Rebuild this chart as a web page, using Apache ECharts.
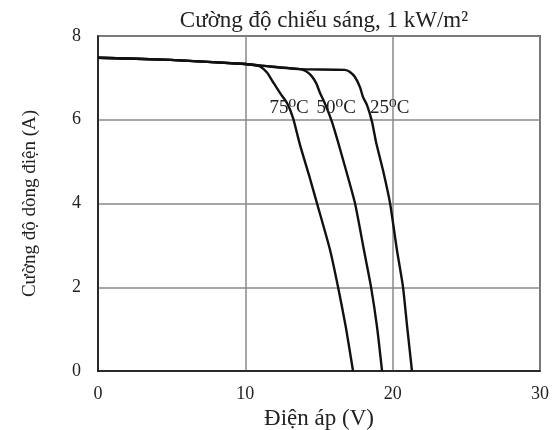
<!DOCTYPE html>
<html lang="vi">
<head>
    <meta charset="UTF-8">
    <title>I-V</title>
    <script src="https://cdn.jsdelivr.net/npm/echarts@6/dist/echarts.min.js"></script>
    <style>
        html, body { margin: 0; padding: 0; background: #fff; }
    </style>
</head>
<body>
<div id="main" style="width: 555px;height:430px;"></div>
<script>
    // du lieu doc tu hinh: [dien ap (V), cuong do (A)]
    let curve75 = [[0, 7.48], [4.9, 7.43], [10, 7.33], [10.66, 7.3], [11.0, 7.27], [11.47, 7.13],
        [11.88, 6.9], [12.35, 6.64], [12.83, 6.4], [13.24, 6.04], [13.71, 5.4], [14.32, 4.68],
        [14.86, 4.01], [15.75, 2.89], [16.29, 2.01], [16.83, 1.03], [17.31, 0]];
    let curve50 = [[0, 7.48], [4.9, 7.43], [10, 7.33], [11.67, 7.27], [13.71, 7.21], [14.12, 7.16],
        [14.46, 7.06], [14.8, 6.88], [15.07, 6.64], [15.41, 6.38], [15.88, 5.95], [16.29, 5.47],
        [16.83, 4.8], [17.44, 4.01], [18.05, 2.89], [18.53, 2.01], [18.94, 1.05], [19.28, 0]];
    let curve25 = [[0, 7.48], [4.9, 7.43], [10, 7.33], [11.67, 7.27], [13.71, 7.21], [16.76, 7.19],
        [17.1, 7.14], [17.44, 7.02], [17.78, 6.78], [17.99, 6.54], [18.26, 6.35], [18.6, 5.95],
        [18.87, 5.47], [19.34, 4.8], [19.82, 4.01], [20.29, 2.89], [20.7, 2.01], [20.97, 1.1],
        [21.31, 0]];
    let seriesNames = ['75⁰C', '50⁰C', '25⁰C'];
    // vi tri nhan nhiet do trong he toa do du lieu
    let labelCoords = [[12.97, 6.28], [16.17, 6.28], [19.8, 6.28]];

    let serif = '"Liberation Serif", "DejaVu Serif", serif';
    let chart = echarts.init(document.getElementById('main'));

    let curves = [curve75, curve50, curve25];
    let series = [];
    for (let i = 0; i < curves.length; i++) {
        series.push({
            name: seriesNames[i],
            type: 'line',
            data: curves[i],
            smooth: 0.2,
            showSymbol: false,
            lineStyle: {color: '#111', width: 2.4},
            markPoint: {
                symbol: 'circle',
                symbolSize: 1,
                itemStyle: {color: 'rgba(0,0,0,0)'},
                label: {
                    show: true,
                    position: 'inside',
                    formatter: seriesNames[i],
                    fontFamily: serif,
                    fontSize: 19,
                    color: '#222'
                },
                data: [{coord: labelCoords[i]}]
            }
        });
    }

    let option = {
        animation: false,
        title: {
            text: 'Cường độ chiếu sáng, 1 kW/m²',
            left: 319,
            textAlign: 'center',
            top: 4,
            textStyle: {fontFamily: serif, fontSize: 23, fontWeight: 'normal', color: '#222'}
        },
        grid: {
            left: 98, right: 15, top: 36, bottom: 59,
            outerBoundsMode: 'none',
            show: true, borderColor: '#111', borderWidth: 1.5
        },
        xAxis: {
            type: 'value',
            min: 0, max: 30, interval: 10,
            name: 'Điện áp (V)',
            nameLocation: 'middle',
            nameGap: 35,
            nameTextStyle: {fontFamily: serif, fontSize: 23, color: '#222'},
            axisLine: {show: true, lineStyle: {color: '#111', width: 1.5}},
            axisTick: {show: false},
            axisLabel: {fontFamily: serif, fontSize: 18, color: '#222', margin: 14},
            splitLine: {show: true, lineStyle: {color: '#8a8a8a', width: 1.5}}
        },
        yAxis: {
            type: 'value',
            min: 0, max: 8, interval: 2,
            name: 'Cường độ dòng điện (A)',
            nameLocation: 'middle',
            nameGap: 58,
            nameTextStyle: {fontFamily: serif, fontSize: 19, color: '#222'},
            axisLine: {show: true, lineStyle: {color: '#111', width: 1.5}},
            axisTick: {show: false},
            axisLabel: {fontFamily: serif, fontSize: 18, color: '#222', margin: 17},
            splitLine: {show: true, lineStyle: {color: '#8a8a8a', width: 1.5}}
        },
        series: series
    };
    chart.setOption(option);
</script>
</body>
</html>
